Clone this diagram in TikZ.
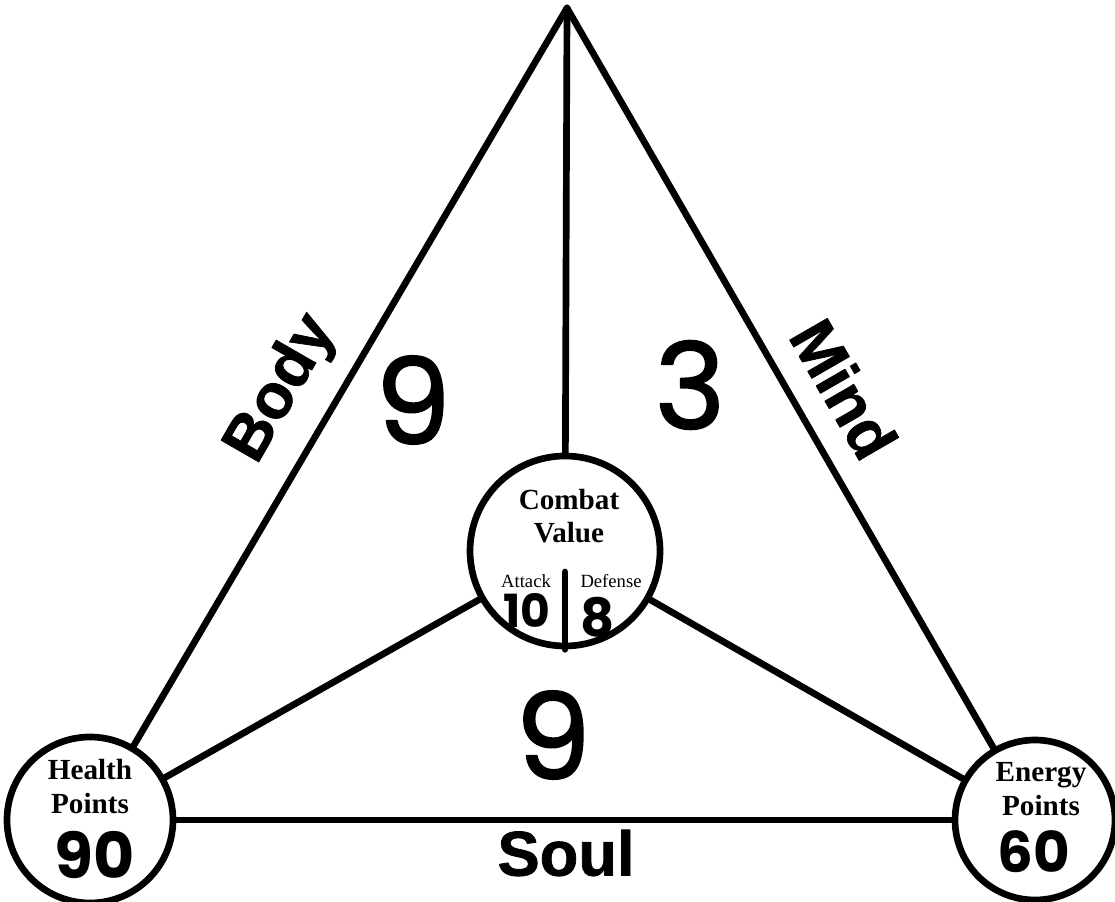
\documentclass[tikz,border=0pt]{standalone}
\usepackage{fontspec}
\setmainfont{Liberation Serif}
\setsansfont{Liberation Sans}
\newfontfamily\handfont{Poppins}
\newfontfamily\handbig{Poppins}[FakeBold=1.6]
\newfontfamily\heavyfont{Liberation Sans}[FakeBold=1.2]
\usetikzlibrary{calc}

\begin{document}
\begin{tikzpicture}[line cap=round, line join=round, line width=1.9pt]
	\tikzset{stat circle/.style={circle, draw, inner sep=0pt},
		stat label/.style={font=\fontsize{8.3}{9.6}\selectfont\bfseries, align=center, anchor=base},
		small label/.style={font=\fontsize{5.3}{6}\selectfont, anchor=base},
		side label/.style={font=\fontsize{18}{18}\selectfont\heavyfont\bfseries, inner sep=0pt},
		hand/.style={font=\handbig\fontsize{34}{34}\selectfont, inner sep=0pt},
		hand small/.style={font=\handfont\bfseries\fontsize{#1}{#1}\selectfont, inner sep=0pt}}
	\useasboundingbox (0,0) rectangle (11.15,9.01);
	\coordinate (top) at (5.67,8.93);
	\node[stat circle, minimum size=1.9cm] (cv) at (5.65,3.50) {};
	\node[stat circle, minimum size=1.66cm] (hp) at (0.90,0.81) {};
	\node[stat circle, minimum size=1.6cm] (ep) at (10.35,0.81) {};
	\draw (top) -- (hp);
	\draw (top) -- (ep);
	\draw (top) -- (cv);
	\draw (cv) -- (hp);
	\draw (cv) -- (ep);
	\draw (hp) -- (ep);
	\draw ($(cv.center)+(0,-0.21)$) -- (cv.south);
	% labels in the circles
	\node[stat label] (cvtext) at (5.69,3.58) {Combat\\Value};
	\node[stat label] (hptext) at (0.90,0.88) {Health\\Points};
	\node[stat label] (eptext) at (10.41,0.86) {Energy\\Points};
	\node[small label] (atk) at (5.26,3.13) {Attack};
	\node[small label] (def) at (6.11,3.13) {Defense};
	\node[hand small=13] (atkval) at (5.27,2.91) {10};
	\node[hand small=15] (defval) at (5.98,2.84) {8};
	\node[hand small=18] (hpval) at (0.95,0.46) {90};
	\node[hand small=16] (epval) at (10.34,0.49) {60};
	% the three sides
	\node[side label, rotate=60] (body) at (2.82,5.12) {Body};
	\node[side label, rotate=-60] (mind) at (8.44,5.12) {Mind};
	\node[side label] (soul) at (5.66,0.48) {Soul};
	\node[hand] (bodyval) at (4.13,5.01) {9};
	\node[hand] (mindval) at (6.90,5.16) {3};
	\node[hand] (soulval) at (5.53,1.66) {9};
\end{tikzpicture}
\end{document}
